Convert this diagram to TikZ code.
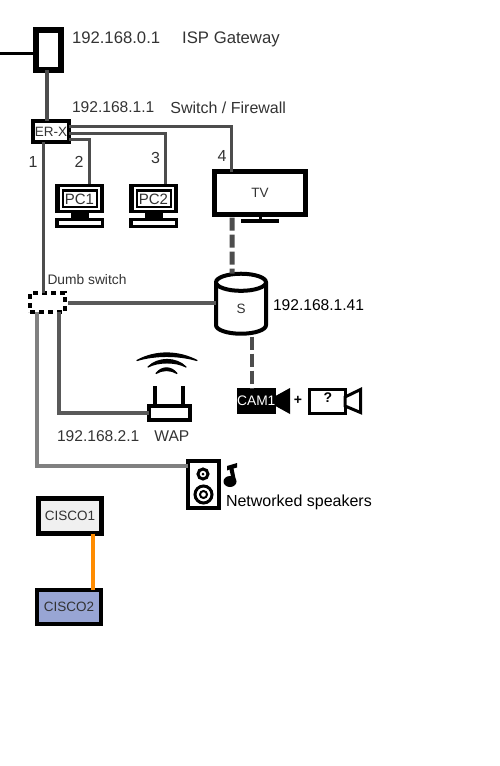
\documentclass[tikz,border=0pt]{standalone}
\usepackage{fontspec}
\setmainfont{Liberation Sans}
\usetikzlibrary{positioning,shapes.geometric}
\definecolor{linkdark}{HTML}{4D4D4D}
\definecolor{linkmid}{HTML}{595959}
\definecolor{linklight}{HTML}{808080}
\definecolor{ciscoblue}{HTML}{98A5D4}
\definecolor{ciscogrey}{HTML}{F0F0F0}
\definecolor{linkorange}{HTML}{FF8C00}
\begin{document}
\begin{tikzpicture}
[x=1pt, y=-1pt,
% STYLES
every node/.style={inner sep=0pt, outer sep=0pt},
% The label style is used for the addresses and names beside the devices
label/.style={text=black!80, font=\fontsize{16}{18}\selectfont, anchor=west},
address/.style={label, font=\fontsize{15.6}{18}\selectfont},
small/.style={text=black!80, font=\fontsize{13.5}{16}\selectfont},
portnum/.style={text=black!80, font=\fontsize{16}{18}\selectfont},
% The device style is used to draw the boxes
device/.style={rectangle, draw=black, fill=white, line width=4.5pt, small},
% The link styles are used for the cables
link/.style={draw=linkdark, line width=4pt},
midlink/.style={draw=linkmid, line width=4pt},
lightlink/.style={draw=linklight, line width=4pt},
portlink/.style={draw=linkdark, line width=3pt},
wifilink/.style={draw=linkdark, line width=5pt, dash pattern=on 13pt off 4pt},
wave/.style={draw=black, fill=black, line width=1.2pt, line join=round}]

\useasboundingbox (0,0) rectangle (500,766);

% Draw devices
\node [device, line width=6pt, minimum width=25pt, minimum height=40pt] (gateway) at (48.5,50) {};
\node [device, line width=4pt, minimum width=36pt, minimum height=21pt] (erx) at (51,131.5) {ER-X};
\node [device, line width=5.5pt, minimum width=91pt, minimum height=43pt] (tv) at (260,193) {\raisebox{-1.5pt}{TV}};
\node [rectangle, fill=black, minimum width=38pt, minimum height=4pt] (tvstand) at (260,221) {};
\node [cylinder, draw=black, fill=white, line width=4pt, shape border rotate=90, aspect=1.9,
  minimum width=50pt, minimum height=60pt, small] (store) at (241,309) {S};
\node [rectangle, draw=black, line width=4pt, dash pattern=on 5pt off 4pt, minimum width=35pt, minimum height=19pt] (dumb) at (47.5,302.5) {};
\node [device, line width=4pt, minimum width=41pt, minimum height=14pt] (wap) at (169.5,413) {};
\node [rectangle, fill=black, text=white, minimum width=38.5pt, minimum height=26pt, font=\fontsize{13.8}{15}\selectfont] (cam) at (256.25,401) {CAM1};
\node [font=\bfseries\fontsize{14}{16}\selectfont] (plus) at (298,400.5) {+};
\node [device, line width=3pt, minimum width=36pt, minimum height=24pt] (camtwo) at (327,401) {};
\node [font=\bfseries\fontsize{14}{16}\selectfont] (camtwotext) at (328,397.5) {?};
\node [device, line width=4pt, minimum width=31pt, minimum height=47pt] (speaker) at (203.5,484.5) {};
\node [device, fill=ciscogrey, minimum width=63pt, minimum height=35pt] (ciscoone) at (70,516) {CISCO1};
\node [device, fill=ciscoblue, line width=4pt, minimum width=64pt, minimum height=34pt] (ciscotwo) at (69,607) {CISCO2};

% PCs
\foreach \pcname/\pcx/\pctext in {pcone/79.5/PC1, pctwo/153.5/PC2} {
  \node [rectangle, fill=black, minimum width=49pt, minimum height=29pt] (\pcname) at (\pcx,198.5) {};
  \node [rectangle, draw=white, line width=2pt, minimum width=38pt, minimum height=21pt] (\pcname-frame) at (\pcx,198.5) {};
  \node [rectangle, fill=white, minimum width=32pt, minimum height=14pt, small, font=\fontsize{15}{16}\selectfont] (\pcname-text) at (\pcx,199) {\pctext};
  \node [rectangle, fill=black, minimum width=18pt, minimum height=6pt, below=0pt of \pcname] (\pcname-stand) {};
  \node [rectangle, draw=black, fill=white, line width=3.5pt, minimum width=45.5pt, minimum height=7pt] (\pcname-keys) at (\pcx,223) {};
}

% Speaker cones
\node [circle, draw=black, line width=3pt, minimum size=10pt] (conesmall) at (203,474) {};
\node [circle, fill=black, minimum size=3pt] at (conesmall) {};
\node [circle, draw=black, line width=3pt, minimum size=17pt] (conebig) at (203.5,494.5) {};
\node [circle, draw=black, line width=2pt, minimum size=7pt] at (conebig) {};

% Labels
\node [label, font=\fontsize{16.7}{18}\selectfont] (gatewaylabel) at (72,39.5) {192.168.0.1\hspace{22pt}ISP Gateway};
\node [address] (erxaddress) at (72,107.5) {192.168.1.1};
\node [label, right=16pt of erxaddress] (erxname) {Switch / Firewall};
\node [portnum] (portone) at (33,162) {1};
\node [portnum] (porttwo) at (79,162) {2};
\node [portnum] (portthree) at (155.5,158) {3};
\node [portnum] (portfour) at (222,156) {4};
\node [small, anchor=west, font=\fontsize{13.8}{16}\selectfont] (dumblabel) at (47.5,280) {Dumb switch};
\node [address, text=black] (storelabel) at (273,305) {192.168.1.41};
\node [address] (wapaddress) at (57,436) {192.168.2.1};
\node [address, right=15pt of wapaddress] (waplabel) {WAP};
\node [label, text=black] (speakerlabel) at (226,502.5) {Networked speakers};

% Draw the links between devices
\draw [draw=black, line width=3pt] (0,53) -- (gateway.west |- 0,53);
\draw [link] ([xshift=-1.5pt]gateway.south) -- ([xshift=-4pt]erx.north);
\draw [portlink] ([yshift=5.5pt]erx.east) -| ([xshift=-29pt]tv.north);
\draw [portlink] ([yshift=-2pt]erx.east) -| ([xshift=11.5pt]pctwo.north);
\draw [portlink] ([yshift=-7.5pt]erx.east) -| ([xshift=9.5pt]pcone.north);
\draw [link, line width=3pt] ([xshift=-8pt]erx.south) -- ([xshift=-4.5pt]dumb.north);
\draw [wifilink] ([xshift=-28pt,yshift=-3pt]tv.south) -- ([xshift=-9pt]store.north);
\draw [midlink] ([xshift=3pt]dumb.east) -- (store.west |- dumb.east);
\draw [wifilink, line width=4.5pt] ([xshift=11pt,yshift=-3pt]store.south) -- ([xshift=-4.25pt]cam.north);
\draw [midlink] ([xshift=11.5pt]dumb.south) |- (wap.west);
\draw [lightlink] ([xshift=-10.5pt]dumb.south) |- ([yshift=18.5pt]speaker.west);
\draw [draw=linkorange, line width=4pt] ([xshift=23pt]ciscoone.south) -- ([xshift=24pt]ciscotwo.north);

% WAP antennas and waves
\draw [draw=black, line width=3.5pt] ([xshift=-14.5pt]wap.north) -- ++(0,-20);
\draw [draw=black, line width=3.5pt] ([xshift=13.5pt]wap.north) -- ++(0,-20);
\filldraw [wave] (137,360.5) .. controls (155,350.5) and (178,350.5) .. (197,360.5) .. controls (178,355) and (155,355) .. cycle;
\filldraw [wave] (148,367) .. controls (158,357) and (176,357) .. (186,367) .. controls (176,361.5) and (158,361.5) .. cycle;
\filldraw [wave] (156,373.5) .. controls (162,366) and (171,366) .. (177,373.5) .. controls (171,369.5) and (162,369.5) .. cycle;

% Camera lenses, TV neck and note
\fill [black] ([yshift=5pt]cam.east) -- (290,388) -- (290,414) -- ([yshift=-5pt]cam.east) -- cycle;
\draw [draw=black, line width=3pt, line join=miter, fill=white] ([yshift=4pt]camtwo.east) -- (360.5,389.5) -- (360.5,412.5) -- ([yshift=-5pt]camtwo.east) -- cycle;
\fill [black] (258.5,217) rectangle (261.5,220);
\fill [black] (230,481.5) ellipse (6.5pt and 5.5pt);
\fill [black] (227,466) -- (237,463) -- (237,467.5) -- (233.5,468.5) -- (236,481) -- (232,481) -- (229.5,469.5) -- (227,470.5) -- cycle;

\end{tikzpicture}
\end{document}
